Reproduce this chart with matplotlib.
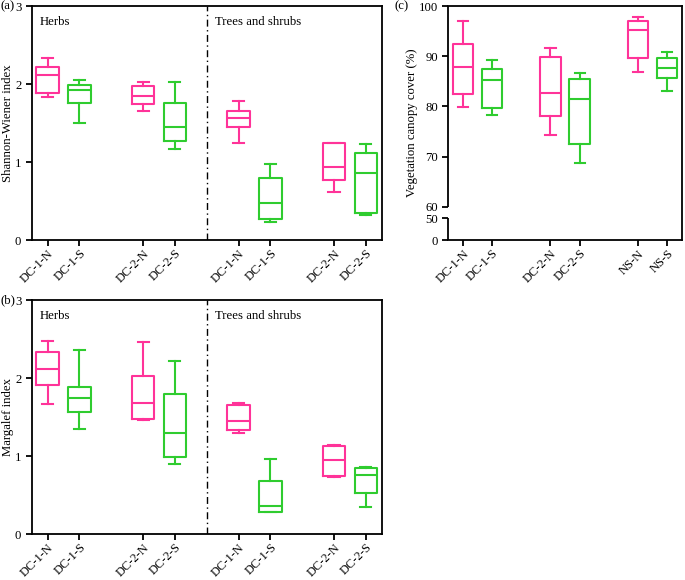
import numpy as np
import matplotlib
matplotlib.use("Agg")
import matplotlib.pyplot as plt

plt.rcParams['font.family'] = ['Liberation Serif', 'DejaVu Serif']
plt.rcParams['font.size'] = 9.2

PINK = '#FF3399'
GREEN = '#2FCC2F'

# ---------------- data ----------------
ab_labels = ['DC-1-N', 'DC-1-S', 'DC-2-N', 'DC-2-S', 'DC-1-N', 'DC-1-S', 'DC-2-N', 'DC-2-S']
ab_positions = [1, 2, 4, 5, 7, 8, 10, 11]
ab_colors = [PINK, GREEN, PINK, GREEN, PINK, GREEN, PINK, GREEN]

# Shannon-Wiener: whislo, q1, med, q3, whishi
sw_low = [1.84, 1.50, 1.66, 1.17, 1.25, 0.235, 0.62, 0.32]
sw_q1 = [1.88, 1.76, 1.74, 1.27, 1.45, 0.27, 0.77, 0.34]
sw_med = [2.12, 1.92, 1.85, 1.45, 1.57, 0.48, 0.93, 0.855]
sw_q3 = [2.22, 1.99, 1.97, 1.76, 1.65, 0.79, 1.24, 1.12]
sw_high = [2.33, 2.05, 2.03, 2.03, 1.78, 0.97, 1.25, 1.23]

# Margalef
mg_low = [1.67, 1.35, 1.46, 0.90, 1.29, 0.28, 0.735, 0.35]
mg_q1 = [1.91, 1.57, 1.47, 0.99, 1.33, 0.286, 0.75, 0.52]
mg_med = [2.12, 1.75, 1.675, 1.30, 1.45, 0.36, 0.944, 0.756]
mg_q3 = [2.34, 1.89, 2.03, 1.80, 1.65, 0.675, 1.13, 0.846]
mg_high = [2.48, 2.36, 2.46, 2.22, 1.68, 0.96, 1.14, 0.86]

# Vegetation canopy cover
c_labels = ['DC-1-N', 'DC-1-S', 'DC-2-N', 'DC-2-S', 'NS-N', 'NS-S']
c_positions = [1, 2, 4, 5, 7, 8]
c_colors = [PINK, GREEN, PINK, GREEN, PINK, GREEN]
vc_low = [79.9, 78.3, 74.2, 68.8, 86.8, 83.1]
vc_q1 = [82.4, 79.7, 78.0, 72.4, 89.7, 85.6]
vc_med = [87.8, 85.25, 82.7, 81.4, 95.2, 87.6]
vc_q3 = [92.4, 87.4, 89.8, 85.5, 97.1, 89.6]
vc_high = [97.0, 89.3, 91.6, 86.7, 97.9, 90.8]

LW = 1.5


def draw_boxes(ax, positions, colors, low, q1, med, q3, high):
    for p, c, lo, a, m, b, hi in zip(positions, colors, low, q1, med, q3, high):
        st = [dict(med=m, q1=a, q3=b, whislo=lo, whishi=hi, fliers=[])]
        ax.bxp(st, positions=[p], widths=0.7, capwidths=0.35, showfliers=False,
               manage_ticks=False,
               boxprops=dict(color=c, lw=LW),
               medianprops=dict(color=c, lw=LW),
               whiskerprops=dict(color=c, lw=LW),
               capprops=dict(color=c, lw=LW))


def style_axis(ax):
    for s in ax.spines.values():
        s.set_linewidth(1.3)
        s.set_color('black')
    ax.tick_params(direction='out', length=4, width=1.3, labelsize=9.2)
    ax.tick_params(axis='x', pad=1.5, labelsize=9)


fig = plt.figure(figsize=(6.85, 5.8), dpi=100)

# panel (a) and (b)
ax_a = fig.add_axes([0.0463, 0.5862, 0.511, 0.4034])
ax_b = fig.add_axes([0.0463, 0.0793, 0.511, 0.4034])

for ax, data, ylab, tag in [
        (ax_a, (sw_low, sw_q1, sw_med, sw_q3, sw_high), 'Shannon-Wiener index', '(a)'),
        (ax_b, (mg_low, mg_q1, mg_med, mg_q3, mg_high), 'Margalef index', '(b)')]:
    draw_boxes(ax, ab_positions, ab_colors, *data)
    ax.set_xlim(0.5, 11.5)
    ax.set_ylim(0, 3)
    ax.set_yticks([0, 1, 2, 3])
    ax.set_xticks(ab_positions)
    ax.set_xticklabels(ab_labels, rotation=45, ha='right', rotation_mode='anchor')
    ax.axvline(6, color='black', lw=1.0, linestyle=(0, (5, 2.5, 1, 2.5)))
    ax.text(0.024, 0.93, 'Herbs', transform=ax.transAxes, va='center', ha='left')
    ax.text(0.524, 0.93, 'Trees and shrubs', transform=ax.transAxes, va='center', ha='left')
    ax.set_ylabel(ylab)
    ax.yaxis.set_label_coords(-0.05, 0.5)
    style_axis(ax)
    ax.text(-0.09, 1.0, tag, transform=ax.transAxes, ha='left', va='center')

# panel (c) with broken axis
GAP_LO, GAP_HI = 50.0, 60.0
s_lo = 21.7 / 50.0
s_gap = 11.6 / 10.0
s_hi = 200.7 / 40.0


def fwd(y):
    y = np.asarray(y, dtype=float)
    return np.where(y <= GAP_LO, y * s_lo,
                    np.where(y <= GAP_HI, GAP_LO * s_lo + (y - GAP_LO) * s_gap,
                             GAP_LO * s_lo + (GAP_HI - GAP_LO) * s_gap + (y - GAP_HI) * s_hi))


def inv(v):
    v = np.asarray(v, dtype=float)
    b1 = GAP_LO * s_lo
    b2 = b1 + (GAP_HI - GAP_LO) * s_gap
    return np.where(v <= b1, v / s_lo,
                    np.where(v <= b2, GAP_LO + (v - b1) / s_gap,
                             GAP_HI + (v - b2) / s_hi))


ax_c = fig.add_axes([0.6545, 0.5862, 0.3407, 0.4034])
ax_c.set_yscale('function', functions=(fwd, inv))
draw_boxes(ax_c, c_positions, c_colors, vc_low, vc_q1, vc_med, vc_q3, vc_high)
ax_c.set_xlim(0.5, 8.5)
ax_c.set_ylim(0, 100)
ax_c.set_yticks([0, 50, 60, 70, 80, 90, 100])
ax_c.set_yticks([], minor=True)
ax_c.set_xticks(c_positions)
ax_c.set_xticklabels(c_labels, rotation=45, ha='right', rotation_mode='anchor')
ax_c.set_ylabel('Vegetation canopy cover (%)')
ax_c.yaxis.set_label_coords(-0.132, 0.5)
style_axis(ax_c)
ax_c.spines['left'].set_visible(False)
ytr = ax_c.get_yaxis_transform()
ax_c.plot([0, 0], [0, GAP_LO], transform=ytr, color='black', lw=1.3, clip_on=False,
          solid_capstyle='butt')
ax_c.plot([0, 0], [GAP_HI, 100], transform=ytr, color='black', lw=1.3, clip_on=False,
          solid_capstyle='butt')
ax_c.text(-0.23, 1.0, '(c)', transform=ax_c.transAxes, ha='left', va='center')

fig.savefig('out.png', dpi=100)
